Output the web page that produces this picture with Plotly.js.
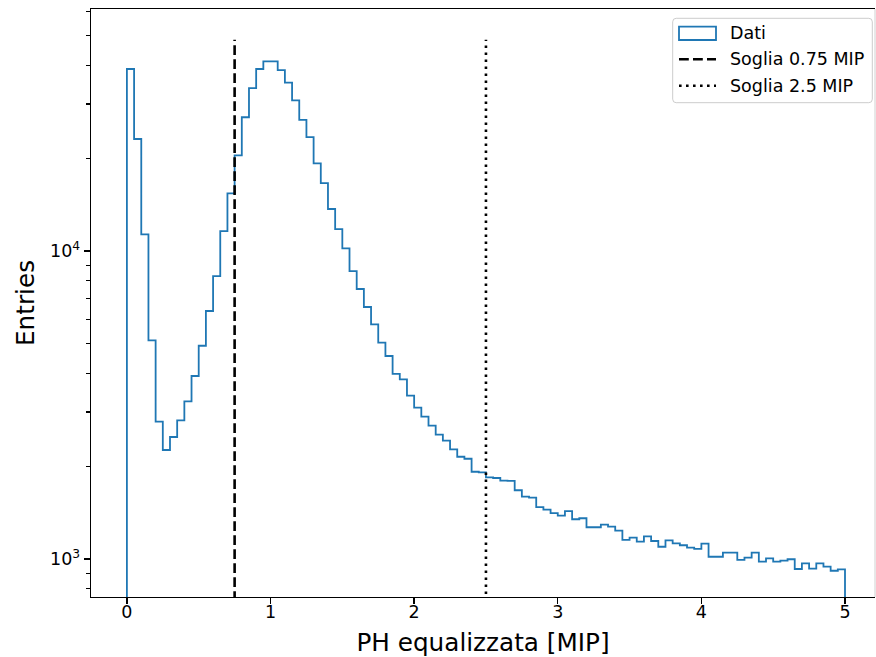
<!DOCTYPE html>
<html><head><meta charset="utf-8">
<script src="https://cdn.plot.ly/plotly-3.0.1.min.js"></script>
<style>html,body{margin:0;padding:0;background:#fff;} #chart{width:876px;height:657px;}</style>
</head><body><div id="chart"></div>
<script>
// ---- data ----
const binLow = 0;
const binHigh = 5;
const entries = [
  38990, 23100, 11330, 5130, 2791, 2259, 2489, 2820, 3251, 3928,
  4925, 6386, 8293, 11610, 15390, 20450, 27180, 33780, 38990, 41290,
  41290, 38640, 35190, 30850, 26670, 23420, 19260, 16600, 13690, 11770,
  10200, 8600, 7526, 6579, 5781, 5038, 4561, 3988, 3832, 3390,
  3099, 2897, 2709, 2533, 2422, 2268, 2148, 2116, 1920, 1912,
  1842, 1832, 1796, 1792, 1672, 1594, 1581, 1473, 1446, 1408,
  1382, 1431, 1346, 1356, 1268, 1268, 1292, 1273, 1236, 1153,
  1173, 1138, 1185, 1144, 1096, 1150, 1124, 1108, 1088, 1078,
  1121, 1017, 1017, 1048, 1048, 993, 1010, 1048, 980, 1005,
  980, 988, 998, 928, 968, 930, 968, 944, 916, 926
];
const seriesName = 'Dati';
const thresholds = [0.75, 2.5];
const thresholdNames = ['Soglia 0.75 MIP', 'Soglia 2.5 MIP'];
const thresholdTop = 48500;
const xTickVals = [0, 1, 2, 3, 4, 5];
const yTickVals = [1000, 10000];
const yTickText = ['10<sup>3</sup>', '10<sup>4</sup>'];
const yMinorVals = [800, 900, 2000, 3000, 4000, 5000, 6000, 7000, 8000, 9000, 20000, 30000, 40000, 50000, 60000];
const xTitle = 'PH equalizzata [MIP]';
const yTitle = 'Entries';

// ---- styles ----
const FONT = 'DejaVu Sans, Liberation Sans, sans-serif';
const BLUE = '#1f77b4';
const floorVal = 1; // below visible range, clipped like matplotlib's step base
const dashStyles = ['9.8px,4.2px', '2.6px,4.4px'];

// step outline
const nb = entries.length;
const bw = (binHigh - binLow) / nb;
const sx = [binLow], sy = [floorVal];
for (let i = 0; i < nb; i++) { sx.push(binLow + i * bw); sy.push(entries[i]); }
sx.push(binHigh); sy.push(entries[nb - 1]);
sx.push(binHigh); sy.push(floorVal);

const traces = [{
  type: 'scatter', mode: 'lines', x: sx, y: sy, name: seriesName,
  line: {color: BLUE, width: 1.8, shape: 'hv'}, hoverinfo: 'skip'
}];
thresholds.forEach((t, i) => {
  traces.push({
    type: 'scatter', mode: 'lines', x: [t, t], y: [floorVal, thresholdTop],
    name: thresholdNames[i], line: {color: '#000', width: 2.6, dash: dashStyles[i]}, hoverinfo: 'skip'
  });
});

// plot area in px
const L = 91, R = 875, T = 9, B = 597;
const W = 876, H = 657;
const PX = p => (p - L) / (R - L);
const PY = p => (B - p) / (B - T);

// custom legend (matplotlib style)
const lx0 = 672.7, lx1 = 872.3, ly0 = 18.3, ly1 = 102.7, rr = 3.5;
function rrPath(x0, y0, x1, y1, r) {
  const P = (x, y) => PX(x) + ',' + PY(y);
  return 'M' + P(x0 + r, y0) + ' L' + P(x1 - r, y0) + ' Q' + P(x1, y0) + ' ' + P(x1, y0 + r) +
    ' L' + P(x1, y1 - r) + ' Q' + P(x1, y1) + ' ' + P(x1 - r, y1) +
    ' L' + P(x0 + r, y1) + ' Q' + P(x0, y1) + ' ' + P(x0, y1 - r) +
    ' L' + P(x0, y0 + r) + ' Q' + P(x0, y0) + ' ' + P(x0 + r, y0) + ' Z';
}
const hx0 = 679, hx1 = 716, textX = 728;
const rowY = [33.3, 59.3, 85.7];
const shapes = [
  {type: 'path', xref: 'paper', yref: 'paper', path: rrPath(lx0, ly0, lx1, ly1, rr),
   fillcolor: 'rgba(255,255,255,0.8)', line: {color: '#cccccc', width: 1}},
  {type: 'rect', xref: 'paper', yref: 'paper', x0: PX(hx0), x1: PX(hx1), y0: PY(26.7), y1: PY(40),
   fillcolor: 'rgba(0,0,0,0)', line: {color: BLUE, width: 1.8}},
  {type: 'line', xref: 'paper', yref: 'paper', x0: PX(hx0), x1: PX(hx1), y0: PY(rowY[1]), y1: PY(rowY[1]),
   line: {color: '#000', width: 2.6, dash: dashStyles[0]}},
  {type: 'line', xref: 'paper', yref: 'paper', x0: PX(hx0), x1: PX(hx1), y0: PY(rowY[2]), y1: PY(rowY[2]),
   line: {color: '#000', width: 2.6, dash: dashStyles[1]}},
  {type: 'line', xref: 'paper', yref: 'paper', x0: 1, x1: 1, y0: 0, y1: 1,
   line: {color: '#d0d0d0', width: 1}}
];
const legendLabels = [seriesName].concat(thresholdNames);
const annotations = legendLabels.map((s, i) => ({
  xref: 'paper', yref: 'paper', x: PX(textX), y: PY(rowY[i]), xanchor: 'left', yanchor: 'middle',
  text: s, showarrow: false, font: {family: FONT, size: 17.5, color: '#000'}
}));

const layout = {
  width: W, height: H,
  margin: {l: L, r: W - R, t: T, b: H - B, pad: 0},
  paper_bgcolor: '#fff', plot_bgcolor: '#fff',
  showlegend: false,
  font: {family: FONT, color: '#000'},
  xaxis: {
    range: [-0.25, -0.25 + (R - L) / ((845 - L) / 5.25)],
    showgrid: false, zeroline: false, showline: true, mirror: true,
    linecolor: '#000', linewidth: 1.4,
    ticks: 'outside', ticklen: 6, tickwidth: 1.4, tickcolor: '#000',
    tickmode: 'array', tickvals: xTickVals, ticktext: xTickVals.map(String),
    ticklabelstandoff: -7,
    tickfont: {family: FONT, size: 17.5, color: '#000'},
    title: {text: xTitle, font: {family: FONT, size: 24.7, color: '#000'}, standoff: 12}
  },
  yaxis: {
    type: 'log', range: [2.8766, 4.7857],
    showgrid: false, zeroline: false, showline: true, mirror: false,
    linecolor: '#000', linewidth: 1.4,
    ticks: 'outside', ticklen: 6, tickwidth: 1.4, tickcolor: '#000',
    tickmode: 'array', tickvals: yTickVals, ticktext: yTickText,
    tickfont: {family: FONT, size: 17.5, color: '#000'},
    minor: {tickmode: 'array', tickvals: yMinorVals, ticks: 'outside', ticklen: 3.5, tickwidth: 1.1, tickcolor: '#000', showgrid: false},
    title: {text: yTitle, font: {family: FONT, size: 24.7, color: '#000'}, standoff: 8}
  },
  shapes: shapes,
  annotations: annotations
};

Plotly.newPlot('chart', traces, layout, {staticPlot: true, displayModeBar: false});
</script>
</body></html>
